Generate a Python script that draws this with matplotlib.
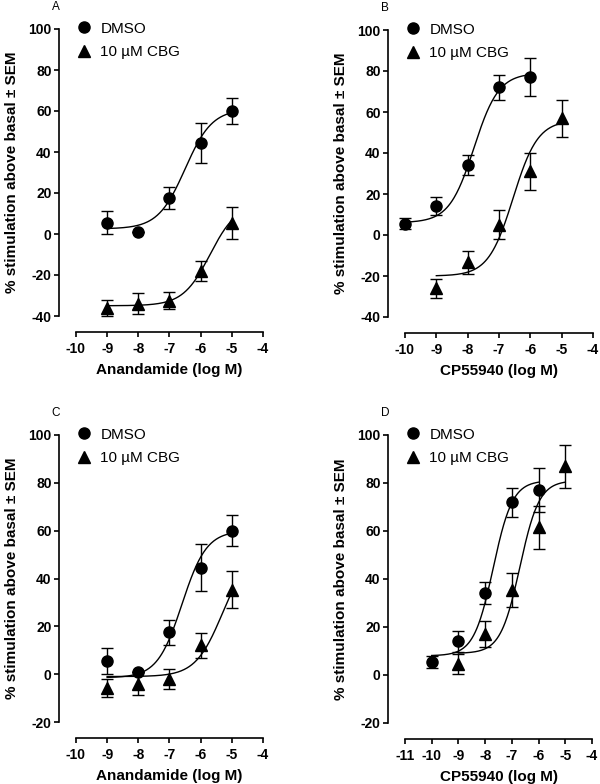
import numpy as np
import matplotlib
matplotlib.use("Agg")
import matplotlib.pyplot as plt
from matplotlib.lines import Line2D

plt.rcParams['font.family'] = ['Liberation Sans', 'DejaVu Sans']
plt.rcParams['axes.unicode_minus'] = False

# ---- data ----
anan_x = [-9, -8, -7, -6, -5]
cp_x = [-10, -9, -8, -7, -6]
cp_cbg_x = [-9, -8, -7, -6, -5]

# anandamide, DMSO (same in A and C)
anan_dmso = [5.5, 0.8, 17.5, 44.5, 60.0]
anan_dmso_err = [5.5, 0.0, 5.3, 9.8, 6.5]

# anandamide + CBG, panel A
anan_cbg_a = [-36.0, -34.0, -32.5, -18.0, 5.5]
anan_cbg_a_err = [4.0, 5.0, 4.3, 5.0, 7.8]

# anandamide + CBG, panel C
anan_cbg_c = [-5.9, -4.0, -2.0, 12.0, 35.4]
anan_cbg_c_err = [3.7, 4.7, 4.3, 5.4, 7.8]

# CP55940, DMSO (same in B and D)
cp_dmso = [5.5, 14.0, 34.2, 72.0, 77.0]
cp_dmso_err = [2.6, 4.4, 4.7, 6.0, 9.2]

# CP55940 + CBG, panel B
cp_cbg_b = [-26.0, -13.3, 5.0, 31.0, 57.0]
cp_cbg_b_err = [4.6, 5.6, 7.0, 9.0, 9.0]

# CP55940 + CBG, panel D
cp_cbg_d = [4.6, 17.0, 35.3, 61.5, 87.0]
cp_cbg_d_err = [4.2, 5.4, 7.0, 9.0, 9.0]

# fitted curves: bottom, top, logEC50, hill
fit_a_dmso = (2.5, 61.0, -6.5, 1.0)
fit_a_cbg = (-35.0, 15.0, -5.7, 1.0)
fit_b_dmso = (6.0, 79.0, -7.8, 1.1)
fit_b_cbg = (-20.0, 56.0, -6.55, 1.1)
fit_c_dmso = (-1.5, 60.0, -6.6, 1.1)
fit_c_cbg = (-1.0, 52.0, -5.3, 1.0)
fit_d_dmso = (8.0, 81.0, -7.7, 1.2)
fit_d_cbg = (9.0, 81.0, -6.7, 1.2)

ylabel = '% stimulation above basal \u00b1 SEM'


def sigmoid(x, p):
    bottom, top, ec50, hill = p
    return bottom + (top - bottom) / (1 + 10 ** ((ec50 - x) * hill))


def panel(fig, box, letter, xlim, ylim, xlab, series):
    W, H = 600.0, 784.0
    x0, x1, ytop, ybot = box
    ax = fig.add_axes([x0 / W, 1 - ybot / H, (x1 - x0) / W, (ybot - ytop) / H])
    for x, y, e, fit, m in series:
        ax.errorbar(x, y, yerr=e, fmt=m, color='black', ms=8, elinewidth=1,
                    capsize=4, capthick=1, zorder=3, clip_on=False)
        xs = np.linspace(x[0], x[-1], 200)
        ax.plot(xs, sigmoid(xs, fit), color='black', lw=1)
    ax.set_xlim(*xlim)
    ax.set_ylim(*ylim)
    ax.set_xticks(np.arange(xlim[0], xlim[1] + 1, 1))
    ax.set_yticks(np.arange(ylim[0], ylim[1] + 1, 20))
    for s in ['top', 'right']:
        ax.spines[s].set_visible(False)
    ax.spines['left'].set_position(('outward', 12))
    ax.spines['bottom'].set_position(('outward', 11.5))
    for s in ['left', 'bottom']:
        ax.spines[s].set_linewidth(1.2)
    ax.tick_params(direction='out', length=3.5, width=1.2, labelsize=10, pad=2)
    ax.tick_params(axis='x', pad=3.5)
    for t in ax.get_xticklabels() + ax.get_yticklabels():
        t.set_fontweight('bold')
    ax.set_xlabel(xlab, fontsize=11, fontweight='bold', labelpad=5)
    ax.set_ylabel(ylabel, fontsize=11, fontweight='bold', labelpad=7)
    handles = [Line2D([], [], ls='none', marker='o', color='black', ms=8),
               Line2D([], [], ls='none', marker='^', color='black', ms=8)]
    ax.legend(handles, ['DMSO', '10 \u00b5M CBG'], loc='upper left', frameon=False,
              bbox_to_anchor=(0.0, 1.025), borderaxespad=0, borderpad=0,
              handlelength=1.0, handletextpad=0.6, labelspacing=0.6, fontsize=11)
    ax.text(-0.107, 1.077, letter, transform=ax.transAxes, fontsize=8.5,
            ha='center', va='center')
    return ax


fig = plt.figure(figsize=(6, 7.84), dpi=100)

panel(fig, (76, 263, 29, 316), 'A', (-10, -4), (-40, 100), 'Anandamide (log M)',
      [(anan_x, anan_dmso, anan_dmso_err, fit_a_dmso, 'o'),
       (anan_x, anan_cbg_a, anan_cbg_a_err, fit_a_cbg, '^')])
panel(fig, (405, 593, 30, 317), 'B', (-10, -4), (-40, 100), 'CP55940 (log M)',
      [(cp_x, cp_dmso, cp_dmso_err, fit_b_dmso, 'o'),
       (cp_cbg_x, cp_cbg_b, cp_cbg_b_err, fit_b_cbg, '^')])
panel(fig, (76, 263, 435, 722), 'C', (-10, -4), (-20, 100), 'Anandamide (log M)',
      [(anan_x, anan_dmso, anan_dmso_err, fit_c_dmso, 'o'),
       (anan_x, anan_cbg_c, anan_cbg_c_err, fit_c_cbg, '^')])
panel(fig, (405, 592, 435, 723), 'D', (-11, -4), (-20, 100), 'CP55940 (log M)',
      [(cp_x, cp_dmso, cp_dmso_err, fit_d_dmso, 'o'),
       (cp_cbg_x, cp_cbg_d, cp_cbg_d_err, fit_d_cbg, '^')])

fig.savefig('out.png', dpi=100)
